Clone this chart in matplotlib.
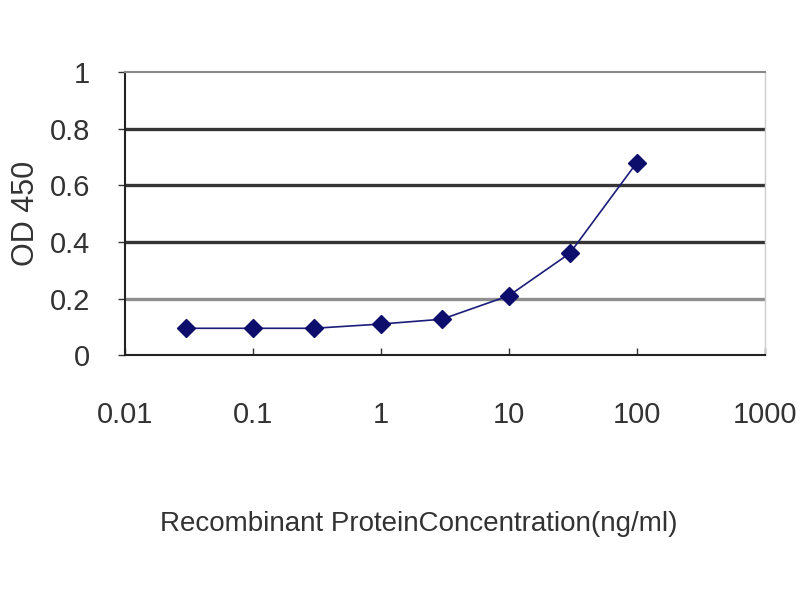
import matplotlib
matplotlib.use("Agg")
import matplotlib.pyplot as plt

conc = [0.03, 0.1, 0.3, 1, 3, 10, 30, 100]
od450 = [0.095, 0.095, 0.095, 0.11, 0.127, 0.21, 0.36, 0.68]
x_ticks = [0.01, 0.1, 1, 10, 100, 1000]
x_tick_labels = ["0.01", "0.1", "1", "10", "100", "1000"]
y_ticks = [0, 0.2, 0.4, 0.6, 0.8, 1]
y_tick_labels = ["0", "0.2", "0.4", "0.6", "0.8", "1"]
grid_levels = [0.2, 0.4, 0.6, 0.8]
grid_colors = ["#8f8f8f", "#353535", "#353535", "#353535"]

plt.rcParams['font.family'] = ['Liberation Sans', 'DejaVu Sans']

fig = plt.figure(figsize=(8, 6), dpi=100)
ax = fig.add_axes([0.156, 0.408, 0.8, 0.472])
ax.set_xscale('log')
ax.set_xlim(0.01, 1000)
ax.set_ylim(0, 1)

for lvl, c in zip(grid_levels, grid_colors):
    ax.axhline(lvl, color=c, linewidth=2.4, zorder=1)

ax.plot(conc, od450, color='#1c1c7a', linewidth=1.2, marker='D', markersize=9,
        markerfacecolor='#0d0d6b', markeredgecolor='#0d0d6b', zorder=3)

ax.set_xticks(x_ticks)
ax.set_xticklabels(x_tick_labels)
ax.minorticks_off()
ax.set_yticks(y_ticks)
ax.set_yticklabels(y_tick_labels)

ax.tick_params(axis='x', direction='in', length=5, width=1, pad=33,
               labelsize=21, labelcolor='#333333', color='#333333')
ax.tick_params(axis='y', direction='out', length=5, width=1, pad=20,
               labelsize=21, labelcolor='#333333', color='#333333')

ax.spines['left'].set_color('#222222')
ax.spines['left'].set_linewidth(1.5)
ax.spines['bottom'].set_color('#222222')
ax.spines['bottom'].set_linewidth(1.5)
ax.spines['top'].set_color('#888888')
ax.spines['top'].set_linewidth(1.5)
ax.spines['right'].set_color('#cccccc')
ax.spines['right'].set_linewidth(1.0)

ax.set_ylabel("OD 450", fontsize=22, color='#333333', labelpad=6)
ax.set_xlabel("Recombinant ProteinConcentration(ng/ml)", fontsize=20, color='#333333', labelpad=48)
ax.xaxis.set_label_coords(0.46, -0.55)

fig.savefig("out.png", dpi=100)
